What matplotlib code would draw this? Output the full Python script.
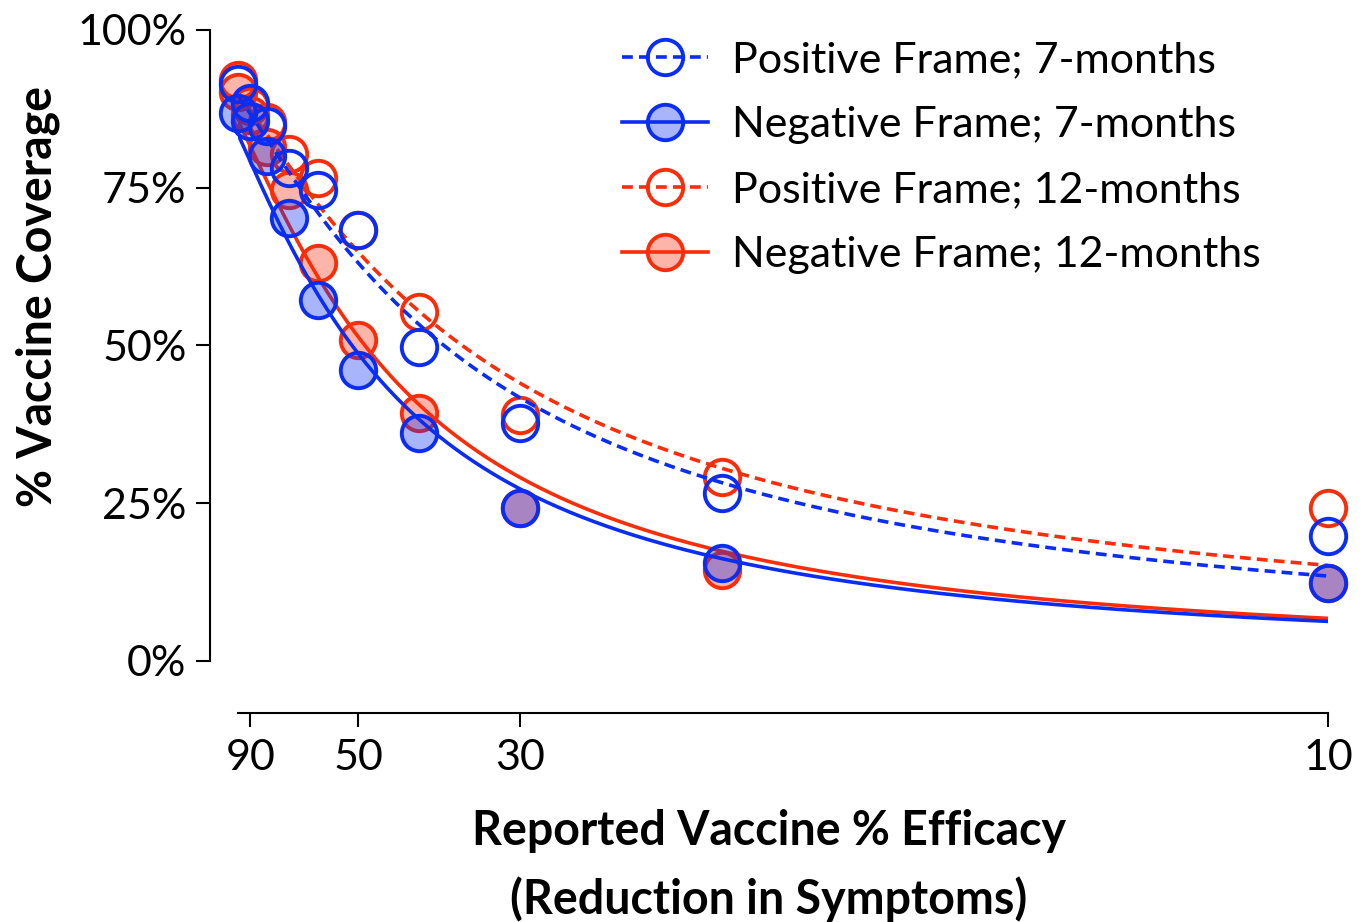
import numpy as np
import matplotlib as mpl
mpl.use("Agg")
from matplotlib import pyplot as plt
from matplotlib.lines import Line2D

# reported efficacy (%) and vaccine coverage (%) per condition
efficacy = [99, 90, 80, 70, 60, 50, 40, 30, 20, 10]
pos_7 = [91.4, 88.5, 84.8, 78.1, 74.6, 68.3, 49.8, 37.7, 26.6, 19.8]
neg_7 = [86.8, 85.5, 80.0, 70.2, 57.2, 46.1, 36.1, 24.2, 15.5, 12.4]
pos_12 = [92.0, 88.0, 85.4, 80.3, 76.5, 68.3, 55.3, 39.0, 29.2, 24.2]
neg_12 = [90.2, 86.5, 81.5, 74.6, 63.1, 50.9, 39.3, 24.2, 14.4, 12.4]

labels = [
    "Positive Frame; 7-months",
    "Negative Frame; 7-months",
    "Positive Frame; 12-months",
    "Negative Frame; 12-months",
]

# fitted curves: y = 100 * (1 - exp(-(v / scale) ** shape)), same order as labels
fit_shape = [1.2, 1.45, 1.15, 1.45]
fit_scale = [50.1, 66.0, 48.1, 62.6]

xticks = [90, 50, 30, 10]
yticks = [0, 25, 50, 75, 100]

BLUE = "#0b2df2"
RED = "#fa2d0a"
FONT = "Lato"
FS = 31
LABEL_FS = 33.5


def fill(color, alpha=0.35):
    return mpl.colors.to_rgba(color, alpha)


def curve(v, shape, scale):
    return 100 * (1 - np.exp(-((v / scale) ** shape)))


fig = plt.figure(figsize=(13.69, 9.22), dpi=100)
ax = fig.add_axes([238 / 1369, 261 / 922, 1090 / 1369, 631 / 922])

# x runs on a 1/efficacy scale
ax.set_xscale("function", functions=(lambda v: 1.0 / v, lambda u: 1.0 / u))

series = [pos_7, neg_7, pos_12, neg_12]
colors = [BLUE, BLUE, RED, RED]
styles = ["--", "-", "--", "-"]
filled = [False, True, False, True]

ms = 25.5
mew = 2.8
lw = 2.6
dash = (0, (3.0, 1.7))

v_fit = np.linspace(efficacy[0], efficacy[-1], 400)
handles = []
# red first so blue sits on top, as in the original
for i in [2, 3, 0, 1]:
    c = colors[i]
    ls = dash if styles[i] == "--" else "-"
    mfc = fill(c) if filled[i] else "none"
    ax.plot(v_fit, curve(v_fit, fit_shape[i], fit_scale[i]), color=c, lw=lw, ls=ls)
    ax.plot(efficacy, series[i], ls="none", marker="o", ms=ms, mfc=mfc,
            mec=c, mew=mew, clip_on=False)

for i in range(4):
    c = colors[i]
    ls = dash if styles[i] == "--" else "-"
    mfc = fill(c) if filled[i] else "none"
    handles.append(Line2D([], [], color=c, lw=lw, ls=ls, marker="o", ms=ms,
                          mfc=mfc, mec=c, mew=mew))

ax.set_xlim(efficacy[-1], efficacy[0])
ax.set_ylim(0, 100)
ax.set_xticks(xticks)
ax.set_xticklabels([str(t) for t in xticks])
ax.set_yticks(yticks)
ax.set_yticklabels(["{}%".format(t) for t in yticks])
ax.xaxis.set_minor_locator(mpl.ticker.NullLocator())

for s in ["top", "right"]:
    ax.spines[s].set_visible(False)
ax.spines["left"].set_position(("outward", 20))
ax.spines["bottom"].set_position(("outward", 37.5))
for s in ["left", "bottom"]:
    ax.spines[s].set_linewidth(1.5)

ax.tick_params(axis="both", direction="out", length=10, width=1.5, labelsize=FS)
ax.tick_params(axis="y", pad=7)
ax.tick_params(axis="x", pad=9)
for t in ax.get_xticklabels() + ax.get_yticklabels():
    t.set_fontfamily(FONT)

ax.set_xlabel("Reported Vaccine % Efficacy\n(Reduction in Symptoms)",
              fontsize=LABEL_FS, fontweight="bold", fontfamily=FONT,
              linespacing=1.6)
ax.xaxis.set_label_coords(0.487, -0.235)
ax.set_ylabel("% Vaccine Coverage", fontsize=LABEL_FS, fontweight="bold",
              fontfamily=FONT)
ax.yaxis.set_label_coords(-0.163, 0.577)

ax.legend(handles, labels, loc="upper left", bbox_to_anchor=(622 / 1369, 0.955),
          bbox_transform=fig.transFigure, frameon=False, borderpad=0,
          borderaxespad=0, handlelength=2.0, handletextpad=0.55,
          labelspacing=0.62, prop={"family": FONT, "size": FS})

fig.savefig("out.png", dpi=100)
